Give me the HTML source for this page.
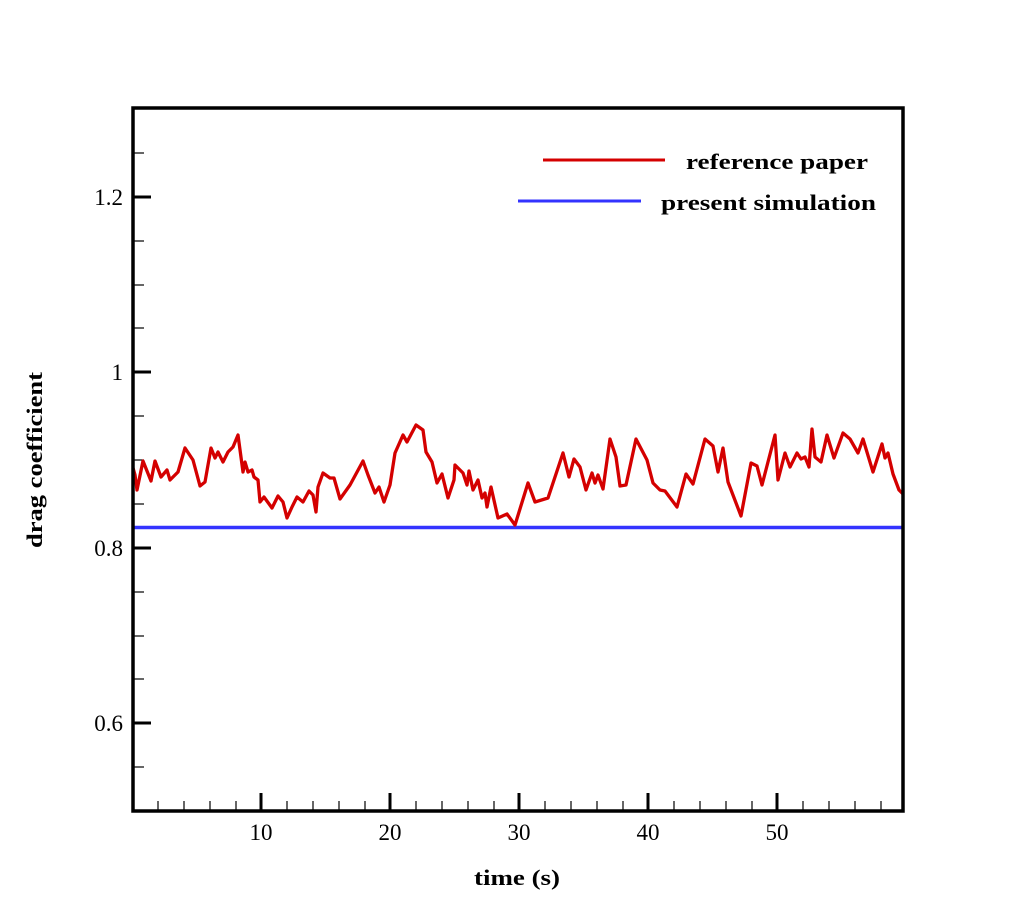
<!DOCTYPE html>
<html><head><style>body{margin:0;background:#fff}</style></head><body>
<svg width="1026" height="912" xmlns="http://www.w3.org/2000/svg" font-family="Liberation Serif, serif">
<rect width="1026" height="912" fill="#fff"/>
<g stroke="#000">
<g stroke-width="1.2">
<line x1="133" y1="153" x2="144" y2="153"/><line x1="133" y1="241" x2="144" y2="241"/><line x1="133" y1="285" x2="144" y2="285"/><line x1="133" y1="328" x2="144" y2="328"/>
<line x1="133" y1="416" x2="144" y2="416"/><line x1="133" y1="460" x2="144" y2="460"/><line x1="133" y1="504" x2="144" y2="504"/>
<line x1="133" y1="592" x2="144" y2="592"/><line x1="133" y1="636" x2="144" y2="636"/><line x1="133" y1="679" x2="144" y2="679"/>
<line x1="133" y1="767" x2="144" y2="767"/>
</g>
<g stroke-width="3">
<line x1="133" y1="197" x2="151" y2="197"/><line x1="133" y1="372" x2="151" y2="372"/><line x1="133" y1="548" x2="151" y2="548"/><line x1="133" y1="723" x2="151" y2="723"/>
<line x1="261" y1="811" x2="261" y2="793"/><line x1="390" y1="811" x2="390" y2="793"/><line x1="519" y1="811" x2="519" y2="793"/><line x1="648" y1="811" x2="648" y2="793"/><line x1="777" y1="811" x2="777" y2="793"/>
</g>
<g stroke-width="1.2">
<line x1="158" y1="811" x2="158" y2="801"/><line x1="184" y1="811" x2="184" y2="801"/><line x1="210" y1="811" x2="210" y2="801"/><line x1="236" y1="811" x2="236" y2="801"/>
<line x1="287" y1="811" x2="287" y2="801"/><line x1="313" y1="811" x2="313" y2="801"/><line x1="339" y1="811" x2="339" y2="801"/><line x1="365" y1="811" x2="365" y2="801"/>
<line x1="416" y1="811" x2="416" y2="801"/><line x1="442" y1="811" x2="442" y2="801"/><line x1="468" y1="811" x2="468" y2="801"/><line x1="494" y1="811" x2="494" y2="801"/>
<line x1="545" y1="811" x2="545" y2="801"/><line x1="571" y1="811" x2="571" y2="801"/><line x1="597" y1="811" x2="597" y2="801"/><line x1="623" y1="811" x2="623" y2="801"/>
<line x1="674" y1="811" x2="674" y2="801"/><line x1="700" y1="811" x2="700" y2="801"/><line x1="726" y1="811" x2="726" y2="801"/><line x1="752" y1="811" x2="752" y2="801"/>
<line x1="803" y1="811" x2="803" y2="801"/><line x1="829" y1="811" x2="829" y2="801"/><line x1="855" y1="811" x2="855" y2="801"/><line x1="881" y1="811" x2="881" y2="801"/>
</g>
</g>
<line x1="133" y1="527.5" x2="903" y2="527.5" stroke="#3333ff" stroke-width="3.5"/>
<polyline fill="none" stroke="#d40000" stroke-width="3.3" stroke-linejoin="round" points="133,468 135,475 137,490 143,461 151,481 155,461 161,477 167,470 170,480 178,472 185,448 193,460 200,486 205,482 211,448 215,458 218,452 223,462 228,452 233,447 238,435 243,472 245,462 248,472 252,470 254,477 258,480 260,502 264,497 272,508 278,496 283,502 287,518 292,507 297,497 303,502 309,491 313,495 316,512 318,487 323,473 330,478 334,478 340,499 350,485 363,461 368,475 375,493 379,487 384,502 390,485 395,453 403,435 407,442 416,425 423,430 426,452 432,462 437,483 442,474 448,498 454,480 455,465 463,473 467,485 469,471 473,490 478,480 482,498 485,493 487,507 491,487 498,518 507,514 515,525 528,483 535,502 548,498 563,453 569,477 574,459 580,467 586,490 592,473 595,483 598,475 603,489 610,439 616,457 620,486 626,485 636,439 647,460 653,483 660,490 665,491 677,507 686,474 693,484 705,439 713,446 718,472 723,448 728,482 741,516 751,463 757,466 762,485 775,435 778,480 785,453 790,467 797,453 801,459 805,457 809,467 812,429 815,457 821,462 827,435 834,458 843,433 850,439 858,453 863,439 873,472 882,444 885,458 888,453 893,474 899,490 903,494"/>
<rect x="133" y="108" width="770" height="703" fill="none" stroke="#000" stroke-width="3.5"/>
<line x1="543" y1="160" x2="665" y2="160" stroke="#d40000" stroke-width="3"/>
<line x1="518" y1="201" x2="641" y2="201" stroke="#3333ff" stroke-width="3"/>
<g font-weight="bold" font-size="22" fill="#000">
<text x="686" y="169" textLength="182" lengthAdjust="spacingAndGlyphs">reference paper</text>
<text x="661" y="210" textLength="215" lengthAdjust="spacingAndGlyphs">present simulation</text>
<text x="474" y="885" textLength="86" lengthAdjust="spacingAndGlyphs">time (s)</text>
<text transform="translate(42,548) rotate(-90)" textLength="176" lengthAdjust="spacingAndGlyphs">drag coefficient</text>
</g>
<g font-size="23" fill="#000">
<text x="123" y="205" text-anchor="end">1.2</text>
<text x="123" y="380" text-anchor="end">1</text>
<text x="123" y="556" text-anchor="end">0.8</text>
<text x="123" y="731" text-anchor="end">0.6</text>
<text x="261" y="840" text-anchor="middle">10</text>
<text x="390" y="840" text-anchor="middle">20</text>
<text x="519" y="840" text-anchor="middle">30</text>
<text x="648" y="840" text-anchor="middle">40</text>
<text x="777" y="840" text-anchor="middle">50</text>
</g>
</svg>
</body></html>
